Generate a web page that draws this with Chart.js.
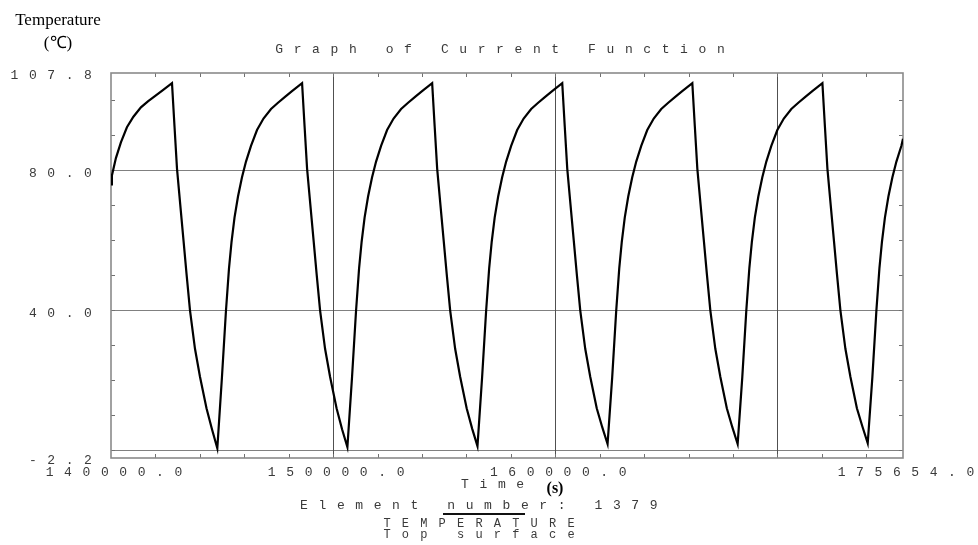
<!DOCTYPE html>
<html lang="en">
<head>
  <meta charset="UTF-8">
  <title>Graph of Current Function</title>
  <script src="https://cdn.jsdelivr.net/npm/chart.js"></script>
  <style>
    body { margin: 0; background: white; }
    canvas { display: block; }
  </style>
</head>
<body>

<canvas id="tempChart" width="978" height="545"></canvas>

<script>
  // time (s) and top surface temperature (C), element 1379
  const times = [
    140000, 140041, 140221, 140446, 140717, 141009, 141347, 141662, 141977, 142292,
    142746, 142859, 142971, 143106, 143264, 143399, 143556, 143781, 144006, 144299, 144546, 144786,
    144996, 145177, 145312, 145425, 145560, 145717, 145897, 146077, 146302, 146573, 146865, 147203, 147518, 147833, 148148,
    148602, 148715, 148827, 148962, 149120, 149255, 149412, 149637, 149862, 150155, 150402, 150642,
    150852, 151033, 151168, 151281, 151416, 151573, 151753, 151933, 152158, 152429, 152721, 153059, 153374, 153689, 154004,
    154458, 154571, 154683, 154818, 154976, 155111, 155268, 155493, 155718, 156011, 156258, 156498,
    156708, 156889, 157024, 157137, 157272, 157429, 157609, 157789, 158014, 158285, 158577, 158915, 159230, 159545, 159860,
    160314, 160427, 160539, 160674, 160832, 160967, 161124, 161349, 161574, 161867, 162114, 162354,
    162564, 162745, 162880, 162993, 163128, 163285, 163465, 163645, 163870, 164141, 164433, 164771, 165086, 165401, 165716,
    166170, 166283, 166395, 166530, 166688, 166823, 166980, 167205, 167430, 167723, 167970, 168210,
    168420, 168601, 168736, 168849, 168984, 169141, 169321, 169501, 169726, 169997, 170289, 170627, 170942, 171257, 171572,
    172026, 172139, 172251, 172386, 172544, 172679, 172836, 173061, 173286, 173579, 173826, 174066,
    174276, 174457, 174592, 174705, 174840, 174997, 175177, 175357, 175582, 175654
  ];
  const temps = [
    76, 78.5, 83.5, 88, 92.3, 95.3, 98, 99.7, 101.2, 102.7,
    104.9, 92.5, 80.5, 71, 60, 50.5, 40, 29, 21, 12, 6, 0.6,
    21, 40, 52, 59.5, 66.5, 72.5, 78, 82.5, 87, 91.5, 94.8, 97.5, 99.3, 101, 102.6,
    104.9, 92.5, 80.5, 71, 60, 50.5, 40, 29, 21, 12, 6, 0.9,
    21, 40, 52, 59.5, 66.5, 72.5, 78, 82.5, 87, 91.5, 94.8, 97.5, 99.3, 101, 102.6,
    104.9, 92.5, 80.5, 71, 60, 50.5, 40, 29, 21, 12, 6.2, 1.2,
    21, 40, 52, 59.5, 66.5, 72.5, 78, 82.5, 87, 91.5, 94.8, 97.5, 99.3, 101, 102.6,
    104.9, 92.5, 80.5, 71, 60, 50.5, 40, 29, 21, 12, 6.6, 1.8,
    21, 40, 52, 59.5, 66.5, 72.5, 78, 82.5, 87, 91.5, 94.8, 97.5, 99.3, 101, 102.6,
    104.9, 92.5, 80.5, 71, 60, 50.5, 40, 29, 21, 12, 6.6, 1.8,
    21, 40, 52, 59.5, 66.5, 72.5, 78, 82.5, 87, 91.5, 94.8, 97.5, 99.3, 101, 102.6,
    104.9, 92.5, 80.5, 71, 60, 50.5, 40, 29, 21, 12, 6.8, 2.0,
    21, 40, 52, 59.5, 66.5, 72.5, 78, 82.5, 87, 89
  ];

  const xMin = 140000, xMax = 175654;
  const yMin = -2.2, yMax = 107.8;
  const xTickValues = [140000, 150000, 160000, 175654];
  const xTickLabels = ["140000.0", "150000.0", "160000.0", "175654.0"];
  const yTickValues = [107.8, 80, 40, -2.2];
  const yTickLabels = ["107.8", "80.0", "40.0", "-2.2"];
  const xGridValues = [150000, 160000, 170000];
  const yGridValues = [0, 40, 80];

  const PITCH = 18.4;
  const MONO = "13px 'Liberation Mono', 'DejaVu Sans Mono', monospace";

  // draw text one char at a time, the old plotter look
  function spaced(ctx, str, x, y, align) {
    const n = str.length;
    let x0 = x;
    if (align === "center") x0 = x - (n - 1) * PITCH / 2;
    if (align === "right") x0 = x - (n - 1) * PITCH;
    ctx.textAlign = "center";
    ctx.textBaseline = "middle";
    for (let i = 0; i < n; i++) {
      ctx.fillText(str[i], x0 + i * PITCH, y);
    }
  }

  const framePlugin = {
    id: "frame",
    beforeDatasetsDraw(chart) {
      const ctx = chart.ctx;
      const a = chart.chartArea;
      const xs = chart.scales.x, ys = chart.scales.y;
      ctx.save();

      // grid
      ctx.lineWidth = 1;
      ctx.strokeStyle = "#808080";
      yGridValues.forEach(v => {
        const py = Math.round(ys.getPixelForValue(v)) + 0.5;
        ctx.beginPath(); ctx.moveTo(a.left, py); ctx.lineTo(a.right, py); ctx.stroke();
      });
      ctx.strokeStyle = "#505050";
      xGridValues.forEach(v => {
        const px = Math.round(xs.getPixelForValue(v)) + 0.5;
        ctx.beginPath(); ctx.moveTo(px, a.top); ctx.lineTo(px, a.bottom); ctx.stroke();
      });

      // small inside ticks
      ctx.strokeStyle = "#707070";
      for (let t = xMin + 2000; t < xMax; t += 2000) {
        const px = Math.round(xs.getPixelForValue(t)) + 0.5;
        ctx.beginPath();
        ctx.moveTo(px, a.top); ctx.lineTo(px, a.top + 4);
        ctx.moveTo(px, a.bottom); ctx.lineTo(px, a.bottom - 4);
        ctx.stroke();
      }
      for (let v = 0; v <= 100; v += 10) {
        const py = Math.round(ys.getPixelForValue(v)) + 0.5;
        ctx.beginPath();
        ctx.moveTo(a.left, py); ctx.lineTo(a.left + 4, py);
        ctx.moveTo(a.right, py); ctx.lineTo(a.right - 4, py);
        ctx.stroke();
      }

      // border
      ctx.strokeStyle = "#8a8a8a";
      ctx.lineWidth = 1.6;
      ctx.strokeRect(a.left, a.top, a.right - a.left, a.bottom - a.top);
      ctx.restore();
    },
    afterDraw(chart) {
      const ctx = chart.ctx;
      const xs = chart.scales.x, ys = chart.scales.y;
      ctx.save();

      ctx.fillStyle = "#000";
      ctx.font = "17px 'Liberation Serif', 'Times New Roman', serif";
      ctx.textAlign = "center";
      ctx.textBaseline = "middle";
      ctx.fillText("Temperature", 58, 21);
      ctx.fillText("(\u2103)", 58, 44);

      ctx.fillStyle = "#3a3a3a";
      ctx.font = MONO;
      spaced(ctx, "Graph of Current Function", 500, 50, "center");

      yTickValues.forEach((v, i) => {
        spaced(ctx, yTickLabels[i], 88, ys.getPixelForValue(v) + 3, "right");
      });
      xTickValues.forEach((v, i) => {
        spaced(ctx, xTickLabels[i], xs.getPixelForValue(v) + 3, 473, "center");
      });

      spaced(ctx, "Time", 465, 485, "left");
      spaced(ctx, "Element number: 1379", 304, 506, "left");
      ctx.font = "12px 'Liberation Mono', 'DejaVu Sans Mono', monospace";
      spaced(ctx, "TEMPERATURE", 387, 524, "left");
      spaced(ctx, "Top surface", 387, 535, "left");

      ctx.fillStyle = "#000";
      ctx.font = "bold 16px 'Liberation Serif', 'Times New Roman', serif";
      ctx.textAlign = "center";
      ctx.fillText("(s)", 555, 489);

      ctx.strokeStyle = "#111";
      ctx.lineWidth = 2;
      ctx.beginPath(); ctx.moveTo(443, 514); ctx.lineTo(525, 514); ctx.stroke();
      ctx.restore();
    }
  };

  const ctx = document.getElementById("tempChart").getContext("2d");
  new Chart(ctx, {
    type: "line",
    data: {
      datasets: [{
        label: "TEMPERATURE Top surface",
        data: times.map((t, i) => ({ x: t, y: temps[i] })),
        borderColor: "#000",
        borderWidth: 2.2,
        pointRadius: 0,
        tension: 0,
        fill: false
      }]
    },
    options: {
      responsive: false,
      animation: false,
      layout: { padding: { left: 111, right: 75, top: 73, bottom: 87 } },
      plugins: { legend: { display: false }, tooltip: { enabled: false } },
      scales: {
        x: { type: "linear", display: false, min: xMin, max: xMax },
        y: { display: false, min: yMin, max: yMax }
      }
    },
    plugins: [framePlugin]
  });
</script>

</body>
</html>
